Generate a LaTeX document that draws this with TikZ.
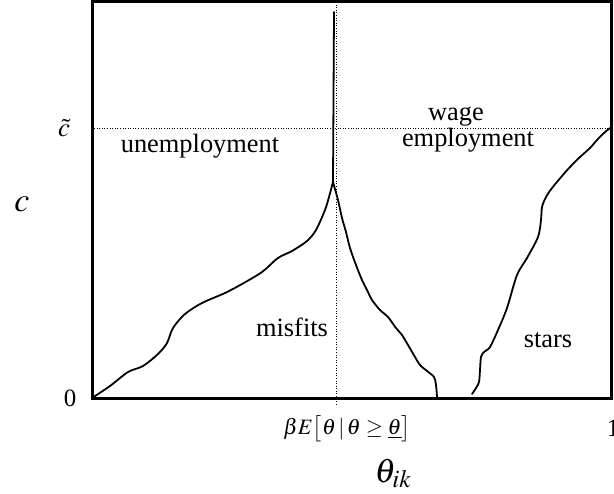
\documentclass[tikz,border=0pt]{standalone}
\usepackage{mathptmx}
\usepackage{fontspec}
\setmainfont{Liberation Serif}
\usetikzlibrary{positioning,calc}

\begin{document}
\begin{tikzpicture}[x=1bp, y=-1bp,
    frame/.style={line width=3bp},
    curve/.style={line width=1.8bp, line join=round, line cap=round},
    guide/.style={dotted, line width=0.6bp},
    region/.style={anchor=base, inner sep=0pt, font=\fontsize{26.5}{31}\selectfont},
    ticklabel/.style={anchor=base, inner sep=0pt, font=\fontsize{25}{29}\selectfont},
    axislabel/.style={anchor=base, inner sep=0pt, font=\fontsize{34}{39}\selectfont}]
  \useasboundingbox (0,0) rectangle (614,494);
  % frame and reference points
  \coordinate (origin) at (92,398);
  \coordinate (corner) at (611,1.5);
  \coordinate (peak) at (333,182);
  \coordinate (ctop) at (334,12);
  \coordinate (vtop) at (336,2);
  \coordinate (vbot) at (336,406);
  \coordinate (hleft) at (94,128);
  \coordinate (hright) at (610,128);
  \draw[frame] (origin) rectangle (corner);
  % dotted guides
  \draw[guide] (vtop) -- (vbot);
  \draw[guide] (hleft) -- (hright);
  % boundary curves
  \draw[curve] (peak) -- (ctop);
  \draw[curve] plot[smooth, tension=0.5] coordinates {(92,398) (110,386) (128,372) (143,366) (158,354) (167,343) (173,328) (185,314) (202,303) (225,293) (242,284) (262,272) (278,258) (292,251) (307,241) (316,230) (325,210) (329,197) (333,182)};
  \draw[curve] plot[smooth, tension=0.5] coordinates {(333,182) (338,200) (342,218) (346,232) (350,248) (356,265) (362,280) (367,290) (372,300) (380,310) (388,317) (396,328) (402,335) (408,345) (415,357) (420,365) (427,371) (434,377) (436,385) (437,397)};
  \draw[curve] plot[smooth, tension=0.5] coordinates {(472,394) (476,388) (479,382) (480,370) (481,357) (484,352) (490,347) (498,330) (507,308) (517,275) (527,258) (538,237) (541,220) (542,207) (546,197) (552,188) (562,176) (570,167) (580,157) (590,148) (597,140) (604,133) (610,128)};
  % region labels
  \node[region] (unemp) at (200,153) {unemployment};
  \node[region] (wage) at (456,121) {wage};
  \node[region] (employ) at (468,147) {employment};
  \node[region] (misfits) at (292,336) {misfits};
  \node[region] (stars) at (548,347) {stars};
  % axis labels
  \node[axislabel] (clab) at (22,212) {$c$};
  \node[ticklabel, font=\fontsize{27}{31}\selectfont] (ctilde) at (64,137) {$\tilde{c}$};
  \node[ticklabel] (zero) at (70,406) {0};
  \node[ticklabel] (one) at (613,436) {1};
  \node[ticklabel, font=\fontsize{22}{26}\selectfont] (thresh) at (347,434) {$\beta E\big[\theta\,|\,\theta\ge\underline{\theta}\big]$};
  \node[axislabel] (thetalab) at (393,482) {$\theta_{ik}$};
\end{tikzpicture}
\end{document}
